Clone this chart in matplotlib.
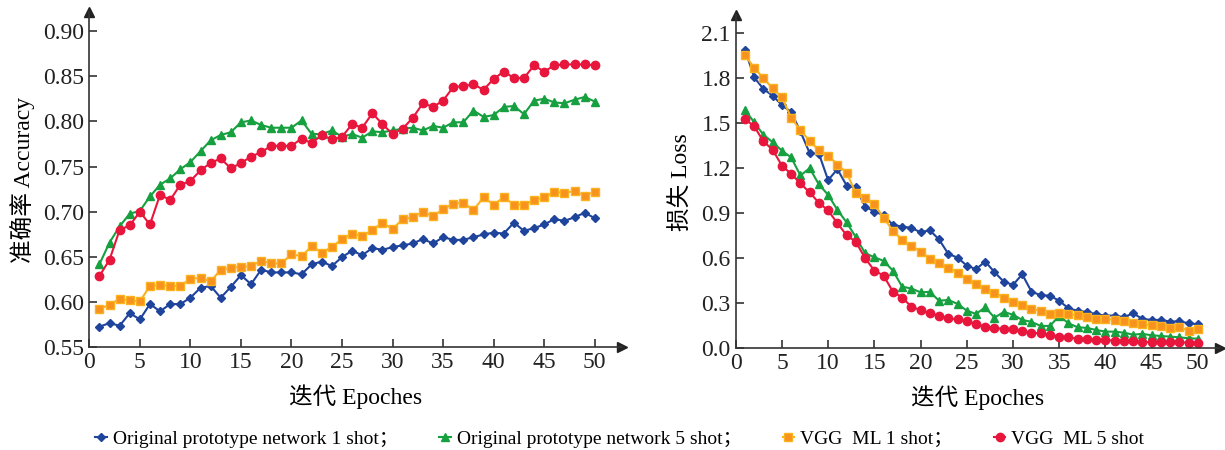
import matplotlib
matplotlib.use('Agg')
import matplotlib.pyplot as plt
from matplotlib.lines import Line2D

plt.rcParams['font.family'] = ['Liberation Serif', 'Noto Sans CJK SC']

epochs = list(range(1, 51))

acc_proto1 = [0.573, 0.577, 0.574, 0.588, 0.581, 0.598, 0.590, 0.598, 0.598, 0.605,
              0.616, 0.618, 0.605, 0.617, 0.630, 0.620, 0.636, 0.633, 0.633, 0.633,
              0.631, 0.642, 0.645, 0.640, 0.650, 0.657, 0.652, 0.660, 0.658, 0.661,
              0.663, 0.665, 0.670, 0.665, 0.672, 0.669, 0.669, 0.672, 0.675, 0.677,
              0.676, 0.688, 0.679, 0.682, 0.686, 0.692, 0.690, 0.694, 0.699, 0.693]
acc_proto5 = [0.642, 0.666, 0.684, 0.698, 0.701, 0.717, 0.730, 0.737, 0.747, 0.755,
              0.767, 0.779, 0.785, 0.788, 0.799, 0.801, 0.796, 0.793, 0.793, 0.793,
              0.801, 0.786, 0.786, 0.790, 0.783, 0.786, 0.782, 0.789, 0.788, 0.790,
              0.792, 0.793, 0.790, 0.795, 0.793, 0.799, 0.799, 0.812, 0.805, 0.807,
              0.816, 0.817, 0.808, 0.823, 0.825, 0.821, 0.820, 0.824, 0.827, 0.822]
acc_vgg1 = [0.593, 0.597, 0.604, 0.602, 0.601, 0.618, 0.619, 0.618, 0.618, 0.626,
            0.627, 0.623, 0.636, 0.638, 0.639, 0.640, 0.646, 0.643, 0.643, 0.653,
            0.651, 0.662, 0.655, 0.661, 0.670, 0.676, 0.673, 0.680, 0.688, 0.681,
            0.692, 0.694, 0.700, 0.695, 0.703, 0.709, 0.710, 0.702, 0.716, 0.708,
            0.716, 0.708, 0.708, 0.713, 0.716, 0.722, 0.721, 0.723, 0.718, 0.722]
acc_vgg5 = [0.629, 0.647, 0.680, 0.685, 0.700, 0.686, 0.719, 0.713, 0.730, 0.734,
            0.746, 0.754, 0.759, 0.748, 0.754, 0.761, 0.766, 0.773, 0.773, 0.773,
            0.781, 0.776, 0.785, 0.780, 0.783, 0.797, 0.793, 0.809, 0.797, 0.786,
            0.792, 0.804, 0.820, 0.816, 0.823, 0.838, 0.839, 0.841, 0.835, 0.847,
            0.855, 0.848, 0.848, 0.862, 0.855, 0.862, 0.863, 0.863, 0.863, 0.862]

loss_proto1 = [1.989, 1.804, 1.727, 1.682, 1.620, 1.573, 1.444, 1.300, 1.296, 1.120,
               1.193, 1.084, 1.071, 0.944, 0.911, 0.887, 0.822, 0.811, 0.802, 0.773,
               0.786, 0.725, 0.629, 0.604, 0.551, 0.527, 0.578, 0.507, 0.444, 0.422,
               0.493, 0.378, 0.353, 0.351, 0.316, 0.267, 0.249, 0.242, 0.227, 0.218,
               0.218, 0.207, 0.233, 0.196, 0.189, 0.189, 0.178, 0.180, 0.167, 0.160]
loss_proto5 = [1.589, 1.504, 1.422, 1.373, 1.316, 1.271, 1.151, 1.200, 1.091, 1.022,
               0.922, 0.838, 0.740, 0.633, 0.607, 0.582, 0.518, 0.411, 0.398, 0.373,
               0.376, 0.317, 0.322, 0.296, 0.251, 0.229, 0.273, 0.204, 0.242, 0.224,
               0.189, 0.176, 0.149, 0.149, 0.216, 0.167, 0.140, 0.136, 0.122, 0.111,
               0.111, 0.104, 0.091, 0.096, 0.087, 0.082, 0.078, 0.073, 0.067, 0.064]
loss_vgg1 = [1.951, 1.869, 1.798, 1.731, 1.671, 1.536, 1.451, 1.382, 1.318, 1.284,
             1.224, 1.169, 1.033, 1.004, 0.960, 0.869, 0.784, 0.722, 0.684, 0.644,
             0.598, 0.569, 0.538, 0.504, 0.460, 0.427, 0.398, 0.369, 0.338, 0.311,
             0.291, 0.264, 0.247, 0.231, 0.233, 0.227, 0.220, 0.207, 0.196, 0.196,
             0.189, 0.182, 0.171, 0.162, 0.153, 0.149, 0.138, 0.140, 0.118, 0.127]
loss_vgg5 = [1.527, 1.478, 1.378, 1.322, 1.216, 1.162, 1.098, 1.038, 0.969, 0.918,
             0.833, 0.753, 0.709, 0.600, 0.518, 0.484, 0.378, 0.338, 0.278, 0.253,
             0.235, 0.216, 0.200, 0.193, 0.184, 0.160, 0.144, 0.138, 0.127, 0.127,
             0.116, 0.104, 0.100, 0.089, 0.078, 0.073, 0.064, 0.064, 0.056, 0.056,
             0.051, 0.051, 0.051, 0.044, 0.040, 0.042, 0.040, 0.040, 0.038, 0.038]

labels = ['Original prototype network 1 shot\uff1b', 'Original prototype network 5 shot\uff1b',
          'VGG  ML 1 shot\uff1b', 'VGG  ML 5 shot']
styles = [dict(color='#1f449c', marker='D', ms=4, mfc='#1f449c', mec='#1f449c'),
          dict(color='#16a040', marker='^', ms=5.5, mfc='#16a040', mec='#16a040'),
          dict(color='#fbb21e', marker='s', ms=5.5, mfc='#f7921e', mec='#fbb21e'),
          dict(color='#e8163c', marker='o', ms=6, mfc='#e8163c', mec='#e8163c')]

fig = plt.figure(figsize=(12.25, 4.5), dpi=100)
ax1 = fig.add_axes([0.0729, 0.2278, 0.4349, 0.7456])
ax2 = fig.add_axes([0.6006, 0.226, 0.3953, 0.7407])

for ax, series in [(ax1, [acc_proto1, acc_proto5, acc_vgg1, acc_vgg5]),
                   (ax2, [loss_proto1, loss_proto5, loss_vgg1, loss_vgg5])]:
    for ys, st in zip(series, styles):
        ax.plot(epochs, ys, lw=1.5, **st)
    for s in ['top', 'right']:
        ax.spines[s].set_visible(False)
    for s in ['left', 'bottom']:
        ax.spines[s].set_color('#333333')
        ax.spines[s].set_linewidth(1.2)
    ax.plot(1, 0, '>', color='#222222', ms=7, transform=ax.transAxes, clip_on=False)
    ax.plot(0, 1, '^', color='#222222', ms=7, transform=ax.transAxes, clip_on=False)
    ax.tick_params(direction='in', length=6, width=1.1, labelsize=17, colors='#222222')
    ax.set_xticks(range(0, 51, 5))
    ax.set_xlabel('迭代 Epoches', fontsize=17, labelpad=8)

ax1.set_xlim(0, 52.7)
ax1.set_ylim(0.55, 0.921)
ax1.set_yticks([0.55, 0.60, 0.65, 0.70, 0.75, 0.80, 0.85, 0.90])
ax1.set_yticklabels(['0.55', '0.60', '0.65', '0.70', '0.75', '0.80', '0.85', '0.90'])
ax1.set_ylabel('准确率 Accuracy', fontsize=17, labelpad=6)

ax2.set_xlim(0, 52.4)
ax2.set_ylim(0, 2.22)
ax2.set_yticks([0.0, 0.3, 0.6, 0.9, 1.2, 1.5, 1.8, 2.1])
ax2.set_yticklabels(['0.0', '0.3', '0.6', '0.9', '1.2', '1.5', '1.8', '2.1'])
ax2.set_ylabel('损失 Loss', fontsize=17, labelpad=6)

handles = [Line2D([], [], lw=1.5, **st) for st in styles]
fig.legend(handles, labels, loc='center', bbox_to_anchor=(0.506, 0.025), ncol=4,
           frameon=False, fontsize=14, handlelength=0.6, handletextpad=0.3,
           columnspacing=2.1)

fig.savefig('out.png', dpi=100)
